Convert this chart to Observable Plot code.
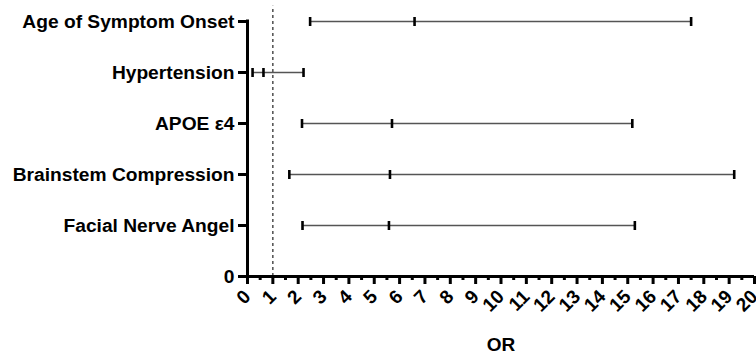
<!DOCTYPE html>
<html>
<head>
<meta charset="utf-8">
<script src="https://cdn.jsdelivr.net/npm/d3@7"></script>
<script src="https://cdn.jsdelivr.net/npm/@observablehq/plot@0.6"></script>
<style>
  html, body { margin: 0; padding: 0; background: #fff; }
  svg { display: block; }
</style>
</head>
<body>
<div id="chart"></div>
<script>
// Categories from bottom (position 1) to top (position 5)
const categories = ["Facial Nerve Angel", "Brainstem Compression", "APOE ε4", "Hypertension", "Age of Symptom Onset"];
const positions = [1, 2, 3, 4, 5];
const lower = [2.17, 1.65, 2.15, 0.20, 2.47];
const oddsRatio = [5.58, 5.62, 5.70, 0.63, 6.59];
const upper = [15.28, 19.2, 15.18, 2.21, 17.5];
const xTicks = d3.range(0, 21);
const xMinorTicks = d3.range(0.5, 20, 1);
const yTicks = [0, 1, 2, 3, 4, 5];

const rows = categories.map((c, i) => ({cat: c, pos: positions[i], lo: lower[i], or: oddsRatio[i], hi: upper[i]}));
const caps = rows.flatMap(r => [{pos: r.pos, x: r.lo}, {pos: r.pos, x: r.or}, {pos: r.pos, x: r.hi}]);

const capSymbol = {
  draw(context, size) {
    context.moveTo(0, -4.5);
    context.lineTo(0, 4.5);
  }
};

const font = "'Liberation Sans', Arial, Helvetica, sans-serif";

const chart = Plot.plot({
  width: 756,
  height: 358,
  marginLeft: 247,
  marginRight: 2,
  marginTop: 21,
  marginBottom: 82,
  style: {fontFamily: font, background: "#fff", color: "#000"},
  x: {domain: [0, 20]},
  y: {domain: [0, 5]},
  marks: [
    Plot.ruleX([1], {y1: 0, y2: 5.3, stroke: "#333", strokeWidth: 1.3, strokeDasharray: "3,3"}),
    Plot.link(rows, {x1: "lo", x2: "hi", y1: "pos", y2: "pos", stroke: "#555", strokeWidth: 1.6}),
    Plot.dot(caps, {x: "x", y: "pos", symbol: capSymbol, r: 4, stroke: "#000", strokeWidth: 2.6, fill: "none"}),
    Plot.axisX({ticks: xMinorTicks, tickSize: 4, text: null, strokeWidth: 3, label: null}),
    Plot.axisX({
      ticks: xTicks, tickSize: 8, strokeWidth: 3, tickRotate: -45, tickPadding: 9,
      fontSize: 19, fontWeight: "bold", tickFormat: d => String(d),
      label: "OR", labelAnchor: "center", labelArrow: "none", labelOffset: 74
    }),
    Plot.axisY({
      ticks: yTicks, tickSize: 9, strokeWidth: 3, tickPadding: 4,
      fontSize: 19.2, fontWeight: "bold",
      tickFormat: d => d === 0 ? "0" : categories[d - 1],
      label: null
    }),
    Plot.ruleY([0], {x1: -0.06, x2: 20, stroke: "#000", strokeWidth: 3}),
    Plot.ruleX([0], {y1: -0.03, y2: 5.03, stroke: "#000", strokeWidth: 3})
  ]
});

chart.querySelectorAll("[aria-label='x-axis label'] text, [aria-label='x-axis label']").forEach(el => {
  el.setAttribute("font-size", "19");
  el.setAttribute("font-weight", "bold");
});
document.getElementById("chart").appendChild(chart);
</script>
</body>
</html>
